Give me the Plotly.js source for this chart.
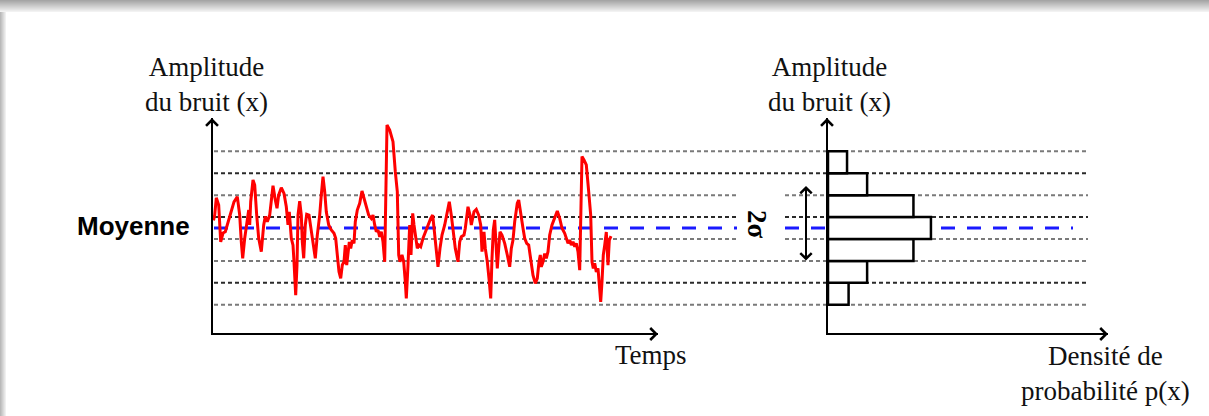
<!DOCTYPE html>
<html><head><meta charset="utf-8">
<script src="https://cdn.plot.ly/plotly-3.0.1.min.js"></script>
<style>html,body{margin:0;padding:0;background:#fff;}#chart{width:1209px;height:416px;}</style>
</head><body><div id="chart"></div>
<script>
// ---- data ----
const temps = [0.5,1.7,3.3,5.7,7.7,10,12.3,15,17.7,21,24.3,26.7,28.3,29.7,31.7,34.3,35.7,36.7,37.7,40,41.7,43.7,45.7,48.3,50.7,52.3,54.3,56.7,60,62.3,64,65.7,68.3,71,73.3,75,76.3,78.3,80,81,82.7,84,85,86.7,88.3,89.3,90.7,92.3,93.7,96,98.3,101,102.3,104.3,106.7,108.3,110,111.7,113.3,115.7,118.3,121,122.7,124.3,126,127.7,129.3,131,132.3,133.7,135,136.3,137.7,139.3,141,142.3,144.3,146.7,149,151,153.3,155.7,158.3,160,161.7,163.3,165,166.7,168.3,170,171.7,172.7,174,176.7,180,182.3,184.3,185.7,187,189,190.7,192.3,193.3,195,196.7,198,199.7,201,202.3,204.3,206,207.7,210,212.3,215,217.7,219.7,221.7,223.3,225,227,229,231.7,234.3,236.3,238.3,240.3,242.3,245,246.7,248.3,251,252.3,255,257,258.3,261,263.3,265.7,267.7,269,271,272.3,274.3,276.3,277.7,279,280.3,281.7,283,284.3,285.7,287,289,291.7,294.3,296.7,298.3,300,301.7,304.3,305.7,307.7,310,311.7,313.7,315.7,317.7,320,322.3,324.3,326,327.3,328.3,330,331.7,333.3,335,336.7,339,341.7,344.3,346.7,349,351.7,353.3,355,356.7,358.3,360,361.7,363.3,365,366.7,367.7,369,371,373.3,375.7,377.7,379,380.3,381.7,383.3,385,386.3,387.7,389,390.3,391.7,393.3,395,396.3,398];
const amplitude = [0.35,0.59,1.38,1.05,-0.63,-0.23,-0.17,0.23,0.59,1.19,1.43,0.59,-0.63,-1.38,-0.47,0.52,0.82,0.14,1.20,2.19,1.96,0.59,-0.47,-1.08,0.14,0.52,0.29,0.59,1.93,1.28,0.90,1.51,1.84,1.58,0.97,0.14,0.74,-0.47,-0.78,-1.54,-3.06,-1.69,0.59,1.23,0.59,-0.63,-1.38,0.14,0.63,0.59,-0.17,-0.93,-1.38,-0.32,0.59,1.51,2.34,1.66,0.74,0.14,-0.09,-0.24,-0.47,-1.23,-2.00,-2.30,-1.69,-1.54,-0.78,-1.69,-1.23,-0.63,-0.93,-0.55,-0.70,0.29,0.82,1.13,1.69,1.36,0.97,0.59,0.44,0.59,0.14,-0.17,-0.09,-0.40,-0.17,-0.63,-1.54,2.11,4.70,4.47,3.94,2.57,1.66,-1.23,-1.54,-1.23,-1.54,-2.45,-3.21,-1.69,0.14,-1.23,0.67,0.14,-0.32,-0.93,-0.78,-0.85,-0.47,-0.17,0.14,0.44,0.59,-0.32,-1.23,-1.77,-0.93,-0.32,0.14,0.82,1.20,0.59,-0.32,-0.93,-1.54,-0.63,-0.40,-0.32,-0.01,0.97,0.59,0.14,0.74,0.85,0.59,0.14,-1.08,-0.17,-0.93,-1.54,-2.45,-3.21,-1.38,-0.09,0.37,-0.78,-1.84,-0.93,-0.17,-0.32,-0.70,-1.23,-1.77,-0.93,-0.55,0.29,1.13,1.28,0.59,-0.01,-0.47,-0.70,-0.78,-1.38,-2.15,-2.53,-2.30,-1.54,-1.23,-1.77,-1.54,-1.16,-1.38,-1.08,-0.32,0.14,0.52,0.78,0.44,-0.01,-0.24,-0.47,-0.70,-0.55,-0.78,-0.63,-0.85,-0.70,-1.08,-1.92,0.59,3.26,3.11,2.88,1.66,0.59,-1.54,-1.84,-1.61,-2.00,-1.84,-2.60,-3.37,-2.45,-1.23,-0.78,-0.18,-1.69,-0.55,-0.37];
const binCenters = [-3, -2, -1, 0, 1, 2, 3];
const density = [2.0, 3.8, 8.3, 10, 8.3, 3.8, 1.85];
const binEdges = [-3.5, -2.5, -1.5, -0.5, 0.5, 1.5, 2.5, 3.5];
const moyenne = 0;
const labelAmplitude = 'Amplitude<br>du bruit (x)';
const labelTemps = 'Temps';
const labelDensite = 'Densité de<br>probabilité p(x)';
const labelMoyenne = 'Moyenne';
const labelSigma = '2σ';

// ---- geometry ----
const W = 1209, H = 416, L = 213, R = 101, T = 118, B = 83;
const PW = W - L - R, PH = H - T - B;
const yr = [-4.79, 5.02];
const px = v => (v - L) / PW;           // pixel x -> paper
const py = v => (H - B - v) / PH;       // pixel y -> paper
const vy = v => (v - yr[0]) / (yr[1] - yr[0]); // data y -> paper

const shapes = [];
// frame shadow
for (let i = 0; i < 6; i++) {
  const g = 185 + i * 11;
  shapes.push({type:'rect', xref:'paper', yref:'paper', layer:'below', x0:px(i), x1:px(i+1), y0:py(H), y1:py(0),
    line:{width:0}, fillcolor:`rgb(${g},${g},${g})`});
}
for (let i = 0; i < 12; i++) {
  const g = 165 + i * 7;
  shapes.push({type:'rect', xref:'paper', yref:'paper', layer:'below', x0:px(0), x1:px(W), y0:py(i+1), y1:py(i),
    line:{width:0}, fillcolor:`rgb(${g},${g},${g})`});
}
// dotted level lines
const darkRows = [2.5, 0.5, -2.5];
const gapRows = [1.5, 0.5, -0.5];
binEdges.forEach(e => {
  const col = darkRows.includes(e) ? '#2a2a2a' : '#7a7a7a';
  const segs = gapRows.includes(e) ? [[214, 737], [785, 1088]] : [[214, 1088]];
  segs.forEach(s => shapes.push({type:'line', xref:'paper', yref:'paper', layer:'below',
    x0:px(s[0]), x1:px(s[1]), y0:vy(e), y1:vy(e), line:{color:col, width:2, dash:'4px,3px'}}));
});
// mean line
[[214, 737], [785, 1073]].forEach(s => shapes.push({type:'line', xref:'paper', yref:'paper', layer:'below',
  x0:px(s[0]), x1:px(s[1]), y0:vy(moyenne), y1:vy(moyenne), line:{color:'#1a1aff', width:3.2, dash:'14px,12px'}}));

const serif = {family:'"Liberation Serif", "Times New Roman", serif', size:27, color:'#111'};
const arrow = (tx, ty, ax, ay) => ({xref:'paper', yref:'paper', x:px(tx), y:py(ty), ax:ax, ay:ay, text:'',
  showarrow:true, arrowhead:4, arrowsize:1.15, arrowwidth:2, arrowcolor:'#000'});

const annotations = [
  arrow(212, 118, 0, 30), arrow(658, 334, -30, 0),
  arrow(827, 118, 0, 30), arrow(1108, 334, -30, 0),
  {xref:'paper', yref:'paper', x:px(806), y:py(186), ax:0, ay:76, text:'', showarrow:true,
   arrowside:'end+start', arrowhead:4, startarrowhead:4, arrowsize:1.1, startarrowsize:1.1, arrowwidth:2, arrowcolor:'#000'},
  {xref:'paper', yref:'paper', x:px(206), y:py(85), text:labelAmplitude, showarrow:false, font:serif, xanchor:'center', yanchor:'middle'},
  {xref:'paper', yref:'paper', x:px(829), y:py(85), text:labelAmplitude, showarrow:false, font:serif, xanchor:'center', yanchor:'middle'},
  {xref:'paper', yref:'paper', x:px(651), y:py(355), text:labelTemps, showarrow:false, font:serif, xanchor:'center', yanchor:'middle'},
  {xref:'paper', yref:'paper', x:px(1105), y:py(373), text:labelDensite, showarrow:false, font:serif, xanchor:'center', yanchor:'middle'},
  {xref:'paper', yref:'paper', x:px(133), y:py(226), text:'<b>' + labelMoyenne + '</b>', showarrow:false,
   font:{family:'"Liberation Sans", Arial, sans-serif', size:26, color:'#000'}, xanchor:'center', yanchor:'middle'},
  {xref:'paper', yref:'paper', x:px(757), y:py(224), text:'<b>' + labelSigma + '</b>', showarrow:false, textangle:90,
   font:{family:'"Liberation Serif", "Times New Roman", serif', size:27, color:'#000'}, xanchor:'center', yanchor:'middle'}
];

const axBase = {showline:true, linecolor:'#000', linewidth:2, showgrid:false, zeroline:false,
  showticklabels:false, ticks:'', fixedrange:true};

const traces = [
  {type:'scatter', mode:'lines', x:temps, y:amplitude, xaxis:'x', yaxis:'y',
   line:{color:'#ff0000', width:3}, hoverinfo:'skip'},
  {type:'bar', orientation:'h', y:binCenters, x:density, width:1, xaxis:'x2', yaxis:'y2',
   marker:{color:'#ffffff', line:{color:'#000', width:2.5}}, hoverinfo:'skip'}
];

const layout = {
  width:W, height:H, autosize:false, showlegend:false,
  margin:{l:L, r:R, t:T, b:B, pad:0},
  paper_bgcolor:'#fff', plot_bgcolor:'rgba(0,0,0,0)',
  xaxis:Object.assign({}, axBase, {domain:[0, 445/PW], range:[0, 445], anchor:'y'}),
  yaxis:Object.assign({}, axBase, {range:yr, anchor:'x'}),
  xaxis2:Object.assign({}, axBase, {domain:[615/PW, 1], range:[0, 27.2], anchor:'y2'}),
  yaxis2:Object.assign({}, axBase, {range:yr, anchor:'x2'}),
  shapes:shapes, annotations:annotations
};

Plotly.newPlot('chart', traces, layout, {staticPlot:true, displayModeBar:false});
</script></body></html>
